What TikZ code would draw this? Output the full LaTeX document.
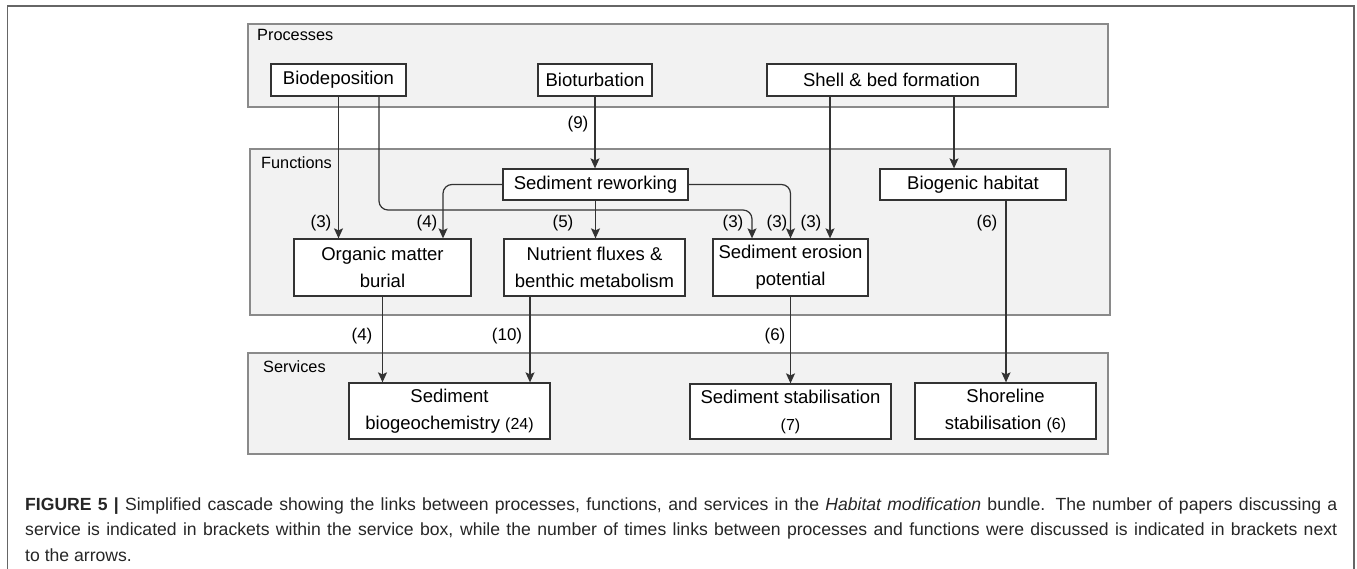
\documentclass[tikz,border=0pt]{standalone}
\usepackage{fontspec}
\setmainfont{Liberation Sans}
\usetikzlibrary{arrows.meta,calc}
\definecolor{grpfill}{HTML}{F2F2F2}
\definecolor{grpdraw}{HTML}{8A8A8A}
\definecolor{boxdraw}{HTML}{333333}
\definecolor{framec}{HTML}{666666}
\begin{document}
\begin{tikzpicture}[x=1pt,y=-1pt,
  grp/.style={draw=grpdraw, fill=grpfill, line width=1.3pt, inner sep=0pt},
  box/.style={draw=boxdraw, fill=white, line width=1.3pt, inner sep=0pt, align=center, font=\fontsize{18.5}{27}\selectfont},
  arr/.style={draw=boxdraw, line width=1.2pt, rounded corners=9pt, -{Stealth[length=10pt,width=9pt,inset=2pt]}},
  num/.style={font=\fontsize{17}{20}\selectfont, inner sep=0pt},
  grplabel/.style={font=\fontsize{16.3}{20}\selectfont, anchor=west, inner sep=0pt},
  captxt/.style={font=\fontsize{17.6}{20}\selectfont, anchor=base west, inner sep=0pt, text=black!85}
]
\useasboundingbox (0,0) rectangle (1357,569);
\draw[framec, line width=1.8pt] (7.5,580) -- (7.5,6) -- (1354,6) -- (1354,580);

% groups
\node[grp, minimum width=860pt, minimum height=83pt] (procs) at (678,65.5) {};
\node[grp, minimum width=860pt, minimum height=166pt] (funcs) at (680,232) {};
\node[grp, minimum width=860pt, minimum height=101pt] (servs) at (678,403.5) {};
\node[grplabel] (lprocs) at (257,35) {Processes};
\node[grplabel] (lfuncs) at (261,162.5) {Functions};
\node[grplabel] (lservs) at (263,367) {Services};

% process nodes
\node[box, minimum width=135pt, minimum height=32pt] (biodep) at (338.5,80) {Biodeposition};
\node[box, minimum width=114pt, minimum height=32pt] (bioturb) at (595,80) {Bioturbation};
\node[box, minimum width=249pt, minimum height=32pt] (shell) at (891.5,80) {Shell \& bed formation};

% function nodes
\node[box, minimum width=185pt, minimum height=31pt] (rework) at (595.5,184.5) {Sediment reworking};
\node[box, minimum width=186pt, minimum height=31pt] (biogenic) at (973,184.5) {Biogenic habitat};
\node[box, minimum width=177pt, minimum height=57pt] (organic) at (382.5,267.5) {Organic matter\\burial};
\node[box, minimum width=181pt, minimum height=57pt] (nutrient) at (594.5,267.5) {Nutrient fluxes \&\\benthic metabolism};
\node[box, minimum width=155pt, minimum height=57pt] (erosion) at (790.5,267.5) {Sediment erosion\\potential};

% service nodes
\node[box, minimum width=201pt, minimum height=56pt] (sedbio) at (449.5,411) {Sediment\\biogeochemistry {\fontsize{16}{27}\selectfont(24)}};
\node[box, minimum width=201pt, minimum height=55pt] (sedstab) at (790.5,411.5) {Sediment stabilisation\\{\fontsize{16}{27}\selectfont(7)}};
\node[box, minimum width=181pt, minimum height=56pt] (shore) at (1005.5,411) {Shoreline\\stabilisation {\fontsize{16}{27}\selectfont(6)}};

% connectors
\draw[arr] (biodep.south) -- (biodep.south |- organic.north);
\draw[arr] ([xshift=40.5pt]biodep.south) |- ([xshift=-38.5pt]erosion.north |- 0,210) -- ([xshift=-38.5pt]erosion.north);
\draw[arr] (bioturb.south) -- (bioturb.south |- rework.north);
\draw[arr] ([xshift=-61.5pt]shell.south) -- ([xshift=39.5pt]erosion.north);
\draw[arr] ([xshift=62.5pt]shell.south) -- ([xshift=-19pt]biogenic.north);
\draw[arr] (rework.west) -| ([xshift=60.5pt]organic.north);
\draw[arr] (rework.south) -- (rework.south |- nutrient.north);
\draw[arr] (rework.east) -| (erosion.north);
\draw[arr] (organic.south) -- (organic.south |- sedbio.north);
\draw[arr] ([xshift=-64.5pt]nutrient.south) -- ([xshift=-64.5pt]nutrient.south |- sedbio.north);
\draw[arr] (erosion.south) -- (erosion.south |- sedstab.north);
\draw[arr] ([xshift=33pt]biogenic.south) -- ([xshift=33pt]biogenic.south |- shore.north);

% counts
\node[num] (n9) at (578,124) {(9)};
\node[num] (n3a) at (321,223) {(3)};
\node[num] (n4a) at (427,223) {(4)};
\node[num] (n5) at (563,223) {(5)};
\node[num] (n3b) at (733,223) {(3)};
\node[num] (n3c) at (777,223) {(3)};
\node[num] (n3d) at (811,223) {(3)};
\node[num] (n6a) at (987,223) {(6)};
\node[num] (n4b) at (362,336) {(4)};
\node[num] (n10) at (507,336) {(10)};
\node[num] (n6b) at (775,336) {(6)};

% caption
\node[captxt] (cap1) at (25,510.5) {\makebox[1312pt][s]{\textbf{FIGURE 5 |} Simplified cascade showing the links between processes, functions, and services in the \textit{Habitat modification} bundle. The number of papers discussing a}};
\node[captxt] (cap2) at (25,535.5) {\makebox[1312pt][s]{service is indicated in brackets within the service box, while the number of times links between processes and functions were discussed is indicated in brackets next}};
\node[captxt] (cap3) at (25,561) {to the arrows.};
\end{tikzpicture}
\end{document}
